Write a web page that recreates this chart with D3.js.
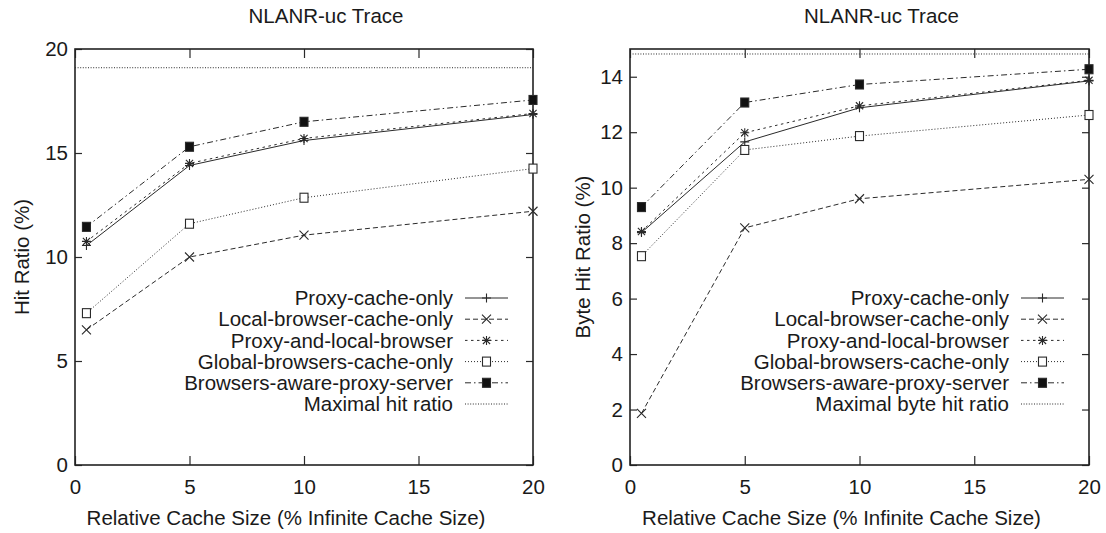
<!DOCTYPE html>
<html>
<head>
<meta charset="utf-8">
<script src="https://cdn.jsdelivr.net/npm/d3@7"></script>
<style>
  html, body { margin: 0; padding: 0; background: #fff; }
  svg { display: block; }
  text { font-family: "Liberation Sans", Arial, Helvetica, sans-serif; fill: #1a1a1a; }
</style>
</head>
<body>
<svg id="chart" width="1106" height="533"></svg>
<script>
// Relative cache sizes (% of infinite cache size)
const cacheSizes = [0.5, 5, 10, 20];

const seriesNames = [
  "Proxy-cache-only",
  "Local-browser-cache-only",
  "Proxy-and-local-browser",
  "Global-browsers-cache-only",
  "Browsers-aware-proxy-server"
];

// Hit ratio (%)
const hitProxyOnly      = [10.55, 14.4, 15.6, 16.85];
const hitLocalOnly      = [6.5, 10.0, 11.05, 12.2];
const hitProxyLocal     = [10.75, 14.5, 15.7, 16.9];
const hitGlobal         = [7.3, 11.6, 12.85, 14.25];
const hitBrowsersAware  = [11.45, 15.3, 16.5, 17.55];
const hitMaximal        = 19.1;

// Byte hit ratio (%)
const byteProxyOnly     = [8.38, 11.65, 12.88, 13.85];
const byteLocalOnly     = [1.86, 8.55, 9.6, 10.3];
const byteProxyLocal    = [8.42, 11.98, 12.95, 13.87];
const byteGlobal        = [7.53, 11.36, 11.86, 12.62];
const byteBrowsersAware = [9.3, 13.07, 13.72, 14.27];
const byteMaximal       = 14.82;

const xTicks = [0, 5, 10, 15, 20];
const hitTicks = [0, 5, 10, 15, 20];
const byteTicks = [0, 2, 4, 6, 8, 10, 12, 14];

const titleText = "NLANR-uc Trace";
const xLabelText = "Relative Cache Size (% Infinite Cache Size)";

// line style per series: dash pattern and marker kind
const styles = [
  { dash: null,          marker: "plus" },
  { dash: "5,3",         marker: "cross" },
  { dash: "2.5,3.5",     marker: "star" },
  { dash: "1,2",         marker: "box" },
  { dash: "6,3,1.5,3",   marker: "fbox" }
];
const maxDash = "1,1.6";

const FONT = 20.5;
const INK = "#2a2a2a";
const svg = d3.select("#chart");

function marker(g, kind, cx, cy) {
  const r = 4.5, s = 4;
  const p = d3.path();
  if (kind === "plus" || kind === "star") {
    p.moveTo(cx - r, cy); p.lineTo(cx + r, cy);
    p.moveTo(cx, cy - r); p.lineTo(cx, cy + r);
  }
  if (kind === "cross" || kind === "star") {
    const d = kind === "star" ? r * 0.8 : r;
    p.moveTo(cx - d, cy - d); p.lineTo(cx + d, cy + d);
    p.moveTo(cx - d, cy + d); p.lineTo(cx + d, cy - d);
  }
  if (kind === "plus" || kind === "cross" || kind === "star") {
    g.append("path").attr("d", p.toString())
      .attr("stroke", INK).attr("stroke-width", 1.1).attr("fill", "none");
  } else {
    g.append("rect")
      .attr("x", cx - s).attr("y", cy - s - 0.5)
      .attr("width", 2 * s).attr("height", 2 * s + 1)
      .attr("fill", kind === "fbox" ? "#111" : "#fff")
      .attr("stroke", INK).attr("stroke-width", 1.1);
  }
}

function panel(cfg) {
  const { left, right, top, bottom } = cfg;
  const x = d3.scaleLinear().domain([0, 20]).range([left, right]);
  const y = d3.scaleLinear().domain([0, cfg.yMax]).range([bottom, top]);
  const g = svg.append("g");

  // ticks (inward, mirrored on all four sides)
  const axL = g.append("g").attr("transform", `translate(${left},0)`)
    .call(d3.axisLeft(y).tickValues(cfg.yTicks).tickSize(-7).tickPadding(7).tickFormat(d3.format("d")));
  const axR = g.append("g").attr("transform", `translate(${right},0)`)
    .call(d3.axisRight(y).tickValues(cfg.yTicks).tickSize(-7).tickFormat(""));
  const axB = g.append("g").attr("transform", `translate(0,${bottom})`)
    .call(d3.axisBottom(x).tickValues(xTicks).tickSize(-9).tickPadding(14).tickFormat(d3.format("d")));
  const axT = g.append("g").attr("transform", `translate(0,${top})`)
    .call(d3.axisTop(x).tickValues(xTicks).tickSize(-9).tickFormat(""));
  [axL, axR, axB, axT].forEach(a => {
    a.select(".domain").remove();
    a.selectAll(".tick line").attr("stroke", INK).attr("stroke-width", 1.2);
    a.selectAll(".tick text").attr("font-size", FONT).attr("fill", "#1a1a1a")
      .attr("font-family", "'Liberation Sans', Arial, sans-serif");
  });

  // frame
  g.append("rect")
    .attr("x", left).attr("y", top)
    .attr("width", right - left).attr("height", bottom - top)
    .attr("fill", "none").attr("stroke", "#222").attr("stroke-width", 1.6);

  // maximal ratio reference line
  g.append("line")
    .attr("x1", left).attr("x2", right)
    .attr("y1", y(cfg.maximal)).attr("y2", y(cfg.maximal))
    .attr("stroke", INK).attr("stroke-width", 1).attr("stroke-dasharray", maxDash);

  // series lines and markers
  const line = d3.line().x((d, i) => x(cacheSizes[i])).y(d => y(d));
  cfg.series.forEach((vals, k) => {
    const st = styles[k];
    g.append("path").attr("d", line(vals))
      .attr("fill", "none").attr("stroke", INK).attr("stroke-width", 1)
      .attr("stroke-dasharray", st.dash);
    vals.forEach((v, i) => marker(g, st.marker, x(cacheSizes[i]), y(v)));
  });

  // legend
  const rowY0 = 298, rowStep = 21.2;
  const sx0 = right - 68, sx1 = right - 25;
  const labels = seriesNames.concat([cfg.maxLabel]);
  labels.forEach((name, k) => {
    const yy = rowY0 + k * rowStep;
    g.append("text").attr("x", sx0 - 12).attr("y", yy).attr("dy", "0.35em")
      .attr("text-anchor", "end").attr("font-size", FONT).text(name);
    const ln = g.append("line").attr("x1", sx0).attr("x2", sx1)
      .attr("y1", yy).attr("y2", yy).attr("stroke", INK).attr("stroke-width", 1);
    if (k < 5) {
      ln.attr("stroke-dasharray", styles[k].dash);
      marker(g, styles[k].marker, (sx0 + sx1) / 2, yy);
    } else {
      ln.attr("stroke-dasharray", maxDash);
    }
  });

  // title and axis labels
  g.append("text").attr("x", (left + right) / 2 + 22).attr("y", 23)
    .attr("text-anchor", "middle").attr("font-size", FONT).text(titleText);
  g.append("text").attr("x", (left + right) / 2 - 18).attr("y", 525)
    .attr("text-anchor", "middle").attr("font-size", FONT).text(xLabelText);
  g.append("text")
    .attr("transform", `translate(${cfg.yLabelX},${(top + bottom) / 2}) rotate(-90)`)
    .attr("text-anchor", "middle").attr("font-size", FONT).text(cfg.yLabel);
}

panel({
  left: 75, right: 533, top: 49, bottom: 465,
  yMax: 20, yTicks: hitTicks, maximal: hitMaximal,
  series: [hitProxyOnly, hitLocalOnly, hitProxyLocal, hitGlobal, hitBrowsersAware],
  maxLabel: "Maximal hit ratio", yLabel: "Hit Ratio (%)", yLabelX: 29
});

panel({
  left: 630, right: 1089, top: 49, bottom: 465,
  yMax: 15, yTicks: byteTicks, maximal: byteMaximal,
  series: [byteProxyOnly, byteLocalOnly, byteProxyLocal, byteGlobal, byteBrowsersAware],
  maxLabel: "Maximal byte hit ratio", yLabel: "Byte Hit Ratio (%)", yLabelX: 590
});
</script>
</body>
</html>
